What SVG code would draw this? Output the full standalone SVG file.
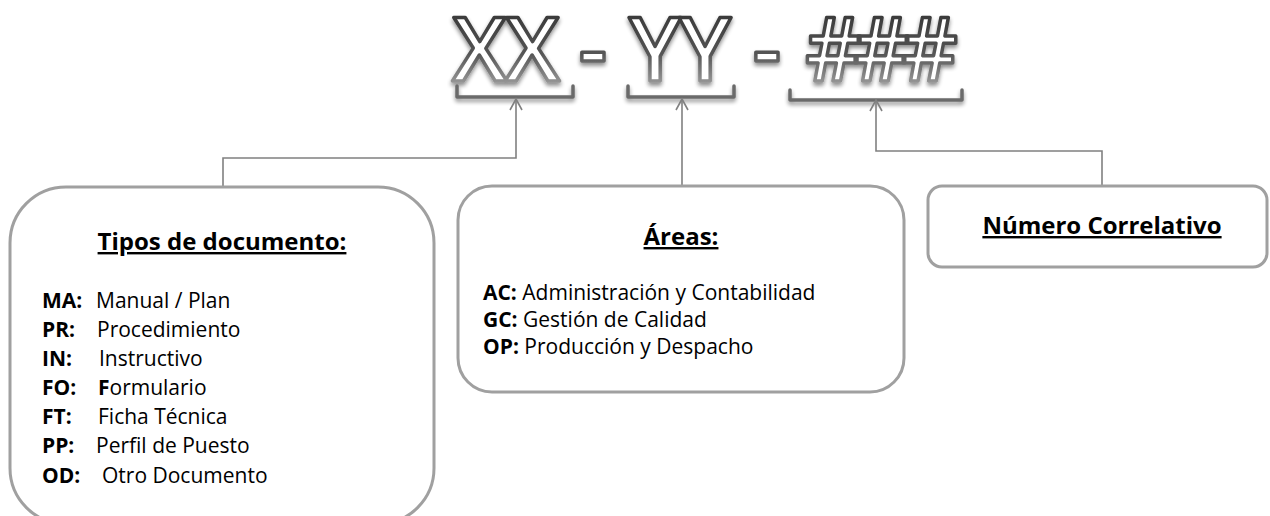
<svg xmlns="http://www.w3.org/2000/svg" width="1270" height="516" viewBox="0 0 1270 516">
  <defs>
    <style>
      .box { fill: #ffffff; stroke: #a0a0a0; stroke-width: 3; }
      .title { font-family: "Open Sans", "Liberation Sans", sans-serif; font-weight: 700; font-size: 24px; fill: #000; text-decoration: underline; }
      .body { font-family: "Open Sans", "Liberation Sans", sans-serif; font-size: 21px; fill: #000; }
      .key { font-weight: 700; }
      .code { font-family: "Open Sans", "Liberation Sans", sans-serif; font-weight: 600; font-size: 88px; fill: #ffffff; stroke: url(#codeStroke); stroke-width: 3.5; stroke-linejoin: round; }
      .brace { fill: none; stroke: #6a6a6a; stroke-width: 3.5; stroke-linecap: round; stroke-linejoin: round; }
      .link { fill: none; stroke: #808080; stroke-width: 1.6; }
    </style>
    <linearGradient id="codeStroke" gradientUnits="userSpaceOnUse" x1="0" y1="15" x2="0" y2="85">
      <stop offset="0" stop-color="#3a3a3a"/>
      <stop offset="0.55" stop-color="#555555"/>
      <stop offset="1" stop-color="#9a9a9a"/>
    </linearGradient>
    <filter id="softShadow" x="-20%" y="-60%" width="140%" height="220%">
      <feGaussianBlur in="SourceAlpha" stdDeviation="2.2"/>
      <feOffset dx="0" dy="2.5" result="blur"/>
      <feComponentTransfer><feFuncA type="linear" slope="0.45"/></feComponentTransfer>
      <feMerge><feMergeNode/><feMergeNode in="SourceGraphic"/></feMerge>
    </filter>
    <marker id="openArrow" markerWidth="14" markerHeight="14" refX="12" refY="7" orient="auto" markerUnits="userSpaceOnUse">
      <path d="M1,1 L12,7 L1,13" fill="none" stroke="#808080" stroke-width="1.6"/>
    </marker>
  </defs>

  <!-- code pattern heading -->
  <g id="code" filter="url(#softShadow)">
    <text class="code" x="505" y="81" text-anchor="middle" letter-spacing="-2">XX</text>
    <text class="code" x="593" y="81" text-anchor="middle">-</text>
    <text class="code" x="679" y="81" text-anchor="middle" letter-spacing="-2">YY</text>
    <text class="code" x="767" y="81" text-anchor="middle">-</text>
    <text class="code" x="877" y="81" text-anchor="middle" letter-spacing="-9" font-size="80">###</text>
  </g>

  <!-- brackets under each segment -->
  <g id="brackets" filter="url(#softShadow)">
    <path class="brace" d="M457,86 V97 H573 V86"/>
    <path class="brace" d="M628,86 V97 H734 V86"/>
    <path class="brace" d="M790,90 V100 H962 V90"/>
  </g>

  <!-- connectors -->
  <g id="connectors">
    <path class="link" d="M223,187 V158 H516 V99" marker-end="url(#openArrow)"/>
    <path class="link" d="M682,186 V99" marker-end="url(#openArrow)"/>
    <path class="link" d="M1102,186 V151 H876 V100" marker-end="url(#openArrow)"/>
  </g>

  <!-- document types -->
  <g id="tipos">
    <rect class="box" x="10" y="187" width="424" height="337" rx="56" ry="56"/>
    <text class="title" x="222" y="250" text-anchor="middle">Tipos de documento:</text>
    <text class="body key" x="42" y="308">MA:</text><text class="body" x="96" y="308">Manual / Plan</text>
    <text class="body key" x="42" y="337">PR:</text><text class="body" x="97" y="337">Procedimiento</text>
    <text class="body key" x="42" y="366">IN:</text><text class="body" x="99" y="366">Instructivo</text>
    <text class="body key" x="42" y="395">FO:</text><text class="body" x="98" y="395"><tspan class="key">F</tspan>ormulario</text>
    <text class="body key" x="42" y="424">FT:</text><text class="body" x="98" y="424">Ficha Técnica</text>
    <text class="body key" x="42" y="453">PP:</text><text class="body" x="96" y="453">Perfil de Puesto</text>
    <text class="body key" x="42" y="483">OD:</text><text class="body" x="102" y="483">Otro Documento</text>
  </g>

  <!-- areas -->
  <g id="areas">
    <rect class="box" x="458" y="186" width="446" height="206" rx="34" ry="34"/>
    <text class="title" x="681" y="245" text-anchor="middle">Áreas:</text>
    <text class="body" x="483" y="300"><tspan class="key">AC:</tspan> Administración y Contabilidad</text>
    <text class="body" x="483" y="327"><tspan class="key">GC:</tspan> Gestión de Calidad</text>
    <text class="body" x="483" y="354"><tspan class="key">OP:</tspan> Producción y Despacho</text>
  </g>

  <!-- sequence number -->
  <g id="correlativo">
    <rect class="box" x="928" y="186" width="339" height="81" rx="14" ry="14"/>
    <text class="title" x="1102" y="234" text-anchor="middle">Número Correlativo</text>
  </g>
</svg>
